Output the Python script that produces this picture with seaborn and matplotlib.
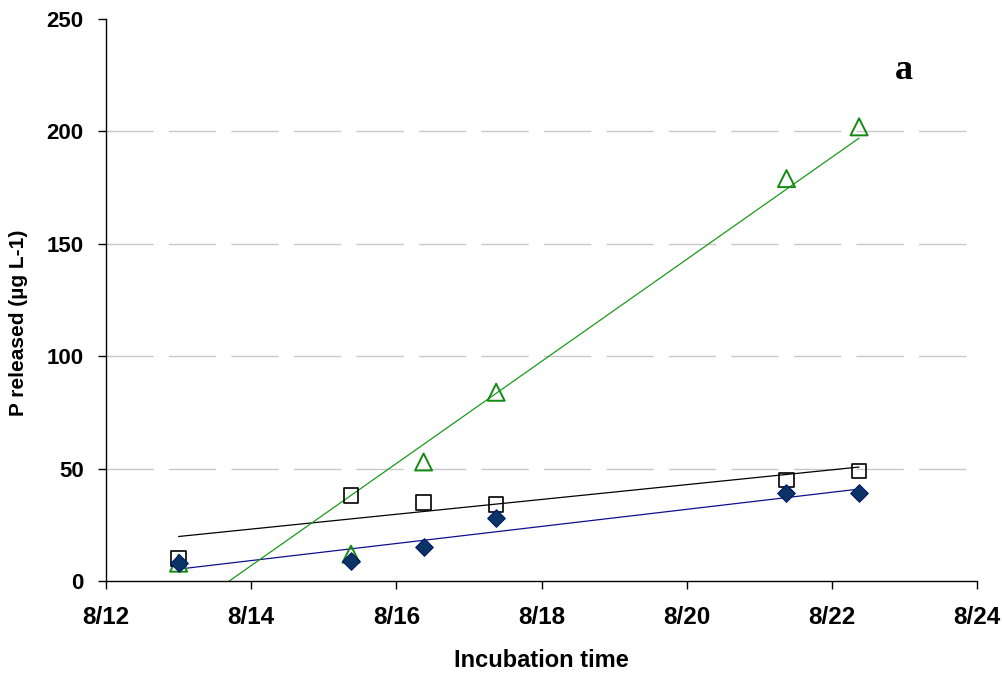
import matplotlib
matplotlib.use("Agg")
import matplotlib.pyplot as plt
import matplotlib.dates as mdates
import numpy as np
import pandas as pd
import seaborn as sns

# ---- data ----
times = ["2008-08-13 00:00", "2008-08-15 09:00", "2008-08-16 09:00",
         "2008-08-17 09:00", "2008-08-21 09:00", "2008-08-22 09:00"]
diamond_vals = [8, 9, 15, 28, 39, 39]
square_vals = [10, 38, 35, 34, 45, 49]
triangle_vals = [8, 12, 53, 84, 179, 202]
x_tick_dates = ["2008-08-12", "2008-08-14", "2008-08-16", "2008-08-18",
                "2008-08-20", "2008-08-22", "2008-08-24"]
y_ticks = [0, 50, 100, 150, 200, 250]

sns.set_theme(style="white")
plt.rcParams['font.family'] = ['Liberation Sans', 'DejaVu Sans']
plt.rcParams['text.color'] = 'black'
plt.rcParams['axes.labelcolor'] = 'black'
plt.rcParams['xtick.color'] = 'black'
plt.rcParams['ytick.color'] = 'black'

xnum = mdates.date2num(pd.to_datetime(times).to_pydatetime())
df = pd.DataFrame({"t": xnum, "diamond": diamond_vals,
                   "square": square_vals, "triangle": triangle_vals})

fig = plt.figure(figsize=(10.03, 6.75), dpi=100)
ax = fig.add_axes([0.1057, 0.139, 0.8684, 0.833])

for yv in y_ticks[1:-1]:
    ax.axhline(yv, color="#c8c8c8", lw=1, linestyle=(0, (34, 11)), zorder=0)

# trend lines
sns.regplot(data=df, x="t", y="diamond", ax=ax, ci=None, scatter=False,
            truncate=True, line_kws=dict(color="#10108c", lw=0.9))
sns.regplot(data=df, x="t", y="square", ax=ax, ci=None, scatter=False,
            truncate=True, line_kws=dict(color="black", lw=0.9))
sns.regplot(data=df, x="t", y="triangle", ax=ax, ci=None, scatter=False,
            truncate=True, line_kws=dict(color="#1a9a1a", lw=0.9))

# markers
sns.scatterplot(data=df, x="t", y="triangle", ax=ax, marker="^", s=150,
                facecolor="none", edgecolor="#138a13", linewidth=1.4, zorder=3)
sns.scatterplot(data=df, x="t", y="square", ax=ax, marker="s", s=110,
                facecolor="none", edgecolor="black", linewidth=1.2, zorder=4)
sns.scatterplot(data=df, x="t", y="diamond", ax=ax, marker="D", s=80,
                color="#0b3366", edgecolor="#001a66", linewidth=0.8, zorder=5)

xt = mdates.date2num(pd.to_datetime(x_tick_dates).to_pydatetime())
ax.set_xlim(xt[0], xt[-1])
ax.set_ylim(0, 250)
ax.set_xticks(xt)
ax.xaxis.set_major_formatter(mdates.DateFormatter("%-m/%d"))
ax.set_yticks(y_ticks)

for s in ["top", "right"]:
    ax.spines[s].set_visible(False)
for s in ["left", "bottom"]:
    ax.spines[s].set_color("black")
    ax.spines[s].set_linewidth(1.0)

ax.tick_params(axis="both", which="major", direction="out", length=6,
               width=1, color="black", labelcolor="black", bottom=True, left=True,
               labelsize=16, pad=10)
ax.tick_params(axis="x", pad=12)
for lab in ax.get_xticklabels():
    lab.set_fontweight("bold")
    lab.set_fontsize(17.5)
for lab in ax.get_yticklabels():
    lab.set_fontweight("bold")

ax.set_xlabel("Incubation time", fontsize=17, fontweight="bold", labelpad=14,
              color="black")
ax.set_ylabel("P released (\u00b5g L-1)", fontsize=15, fontweight="bold",
              color="black")
ax.yaxis.set_label_coords(-0.090, 0.46)

ax.text(0.916, 0.908, "a", transform=ax.transAxes, fontsize=26, fontweight="bold",
        family=["Liberation Serif", "DejaVu Serif"], ha="center", va="center",
        color="black")

fig.savefig("out.png", dpi=100)
